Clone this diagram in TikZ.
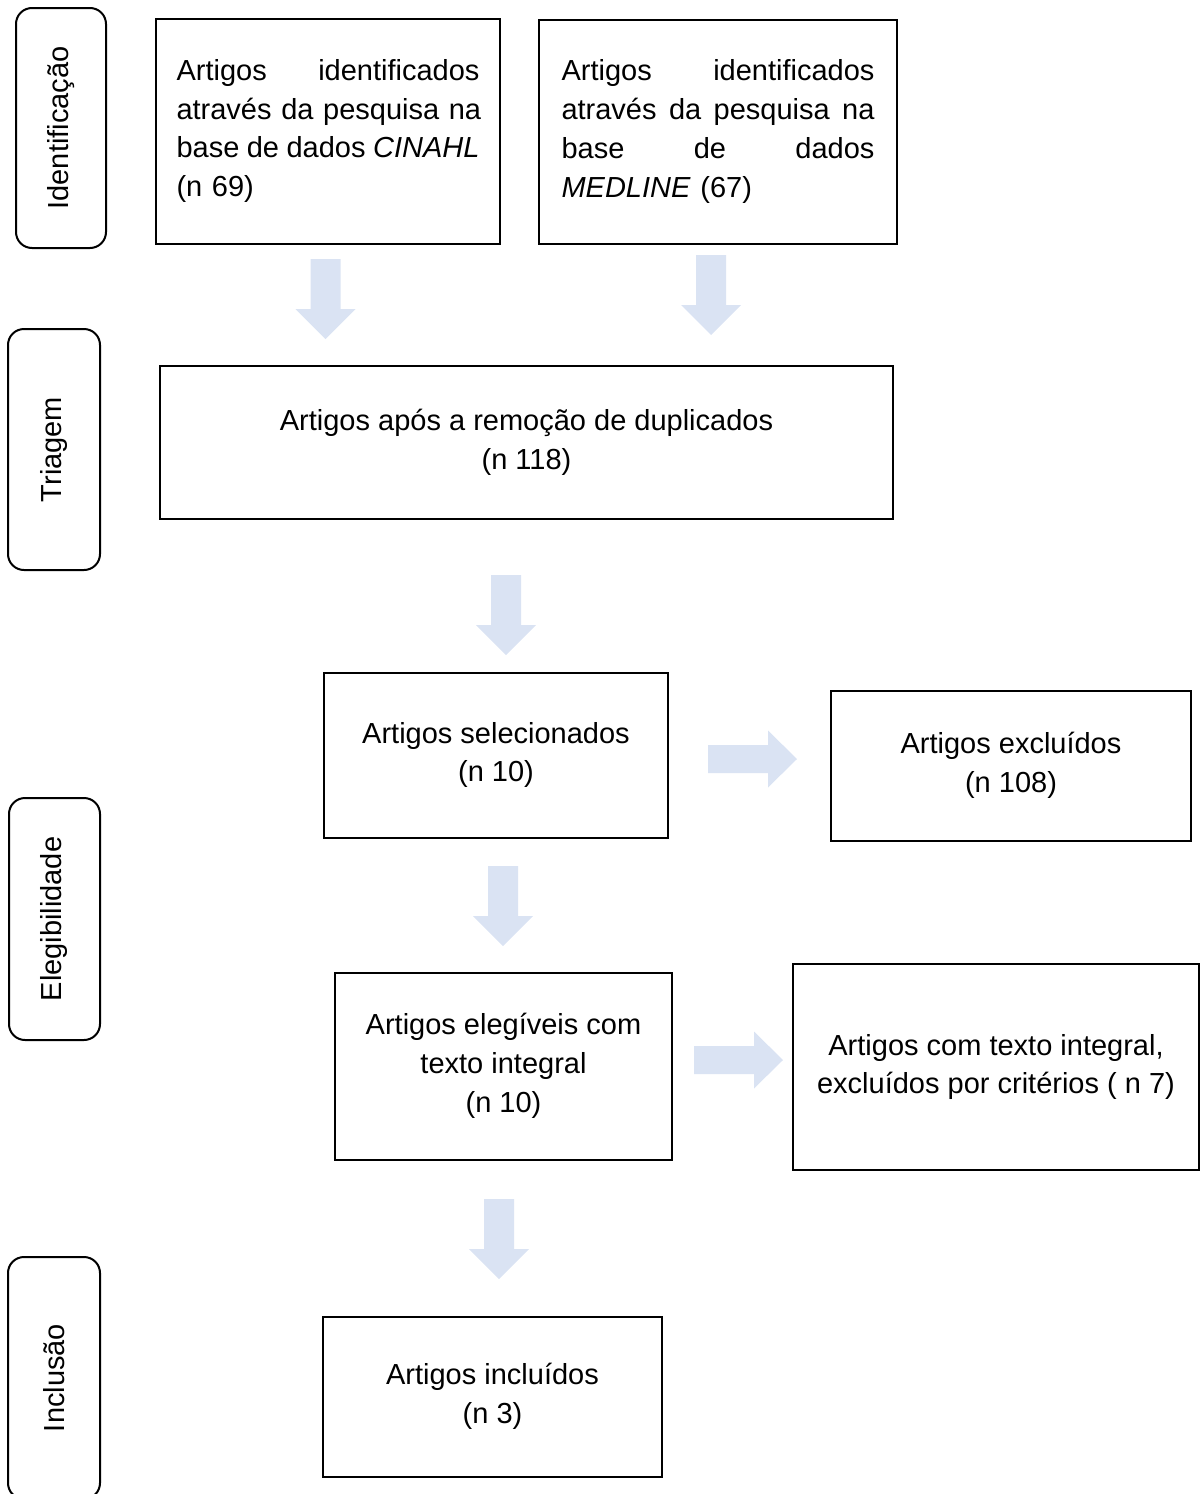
\documentclass[tikz,border=0pt]{standalone}
\usepackage{fontspec}
\setmainfont{Liberation Sans}
\definecolor{arrowblue}{RGB}{218,227,243}
\newcommand{\jline}[2]{\leavevmode\hbox to #1{#2}}
\newcommand{\tsp}{\hskip 6.6pt plus 1fill\relax}
\begin{document}
\begin{tikzpicture}[x=1pt,y=-1pt,
  every node/.style={font=\fontsize{29}{38.8}\selectfont, inner sep=0pt},
  box/.style={draw=black, line width=2pt, rectangle, align=center},
  phase/.style={draw=black, line width=2pt, rectangle, rounded corners=16pt, rotate=90, align=center},
  downarrow/.pic={\fill[arrowblue] (-15,0) -- (15,0) -- (15,50) -- (30,50) -- (0,80) -- (-30,50) -- (-15,50) -- cycle;},
  rightarrow/.pic={\fill[arrowblue] (0,-14) -- (60,-14) -- (60,-28.5) -- (89,0) -- (60,28.5) -- (60,14) -- (0,14) -- cycle;}
]
\useasboundingbox (0,0) rectangle (1201,1494);
\clip (0,0) rectangle (1201,1494);

% phase labels
\node[phase, minimum width=240pt, minimum height=90pt] (pid) at (61,128) {Identificação};
\node[phase, minimum width=241pt, minimum height=92pt] (ptri) at (54,449.5) {Triagem};
\node[phase, minimum width=242pt, minimum height=91pt] (pele) at (54.5,919) {Elegibilidade};
\node[phase, minimum width=242pt, minimum height=92pt] (pinc) at (54,1378) {Inclusão};

% boxes
\node[box, minimum width=344pt, minimum height=225pt, text width=303pt, align=left] (cinahl) at (328,131)
  {\jline{303pt}{Artigos \hfill identificados}\\
   \jline{303pt}{através \hfill da \hfill pesquisa \hfill na}\\
   \jline{303pt}{base\tsp de\tsp dados\tsp \textit{CINAHL}}\\
   (n 69)};
\node[box, minimum width=358pt, minimum height=224pt, text width=313pt, align=left] (medline) at (718,131.5)
  {\jline{313pt}{Artigos \hfill identificados}\\
   \jline{313pt}{através \hfill da \hfill pesquisa \hfill na}\\
   \jline{313pt}{base \hfill de \hfill dados}\\
   \textit{MEDLINE} (67)};
\node[box, minimum width=733pt, minimum height=153pt] (dup) at (526.5,442.5)
  {Artigos após a remoção de duplicados\\(n 118)};
\node[box, minimum width=344pt, minimum height=165pt] (sel) at (496,755)
  {Artigos selecionados\\(n 10)};
\node[box, minimum width=360pt, minimum height=150pt] (exc) at (1011,765.5)
  {Artigos excluídos\\(n 108)};
\node[box, minimum width=337pt, minimum height=187pt] (eleg) at (503.5,1066)
  {Artigos elegíveis com\\texto integral\\(n 10)};
\node[box, minimum width=406pt, minimum height=206pt] (excint) at (996,1067)
  {Artigos com texto integral,\\excluídos por critérios ( n 7)};
\node[box, minimum width=339pt, minimum height=160pt] (inc) at (492.5,1396.5)
  {Artigos incluídos\\(n 3)};

% block arrows
\pic at (325.5,259) {downarrow};
\pic at (711,255) {downarrow};
\pic at (506,575) {downarrow};
\pic at (503,866) {downarrow};
\pic at (499,1199) {downarrow};
\pic at (708,759) {rightarrow};
\pic at (694,1060) {rightarrow};
\end{tikzpicture}
\end{document}
